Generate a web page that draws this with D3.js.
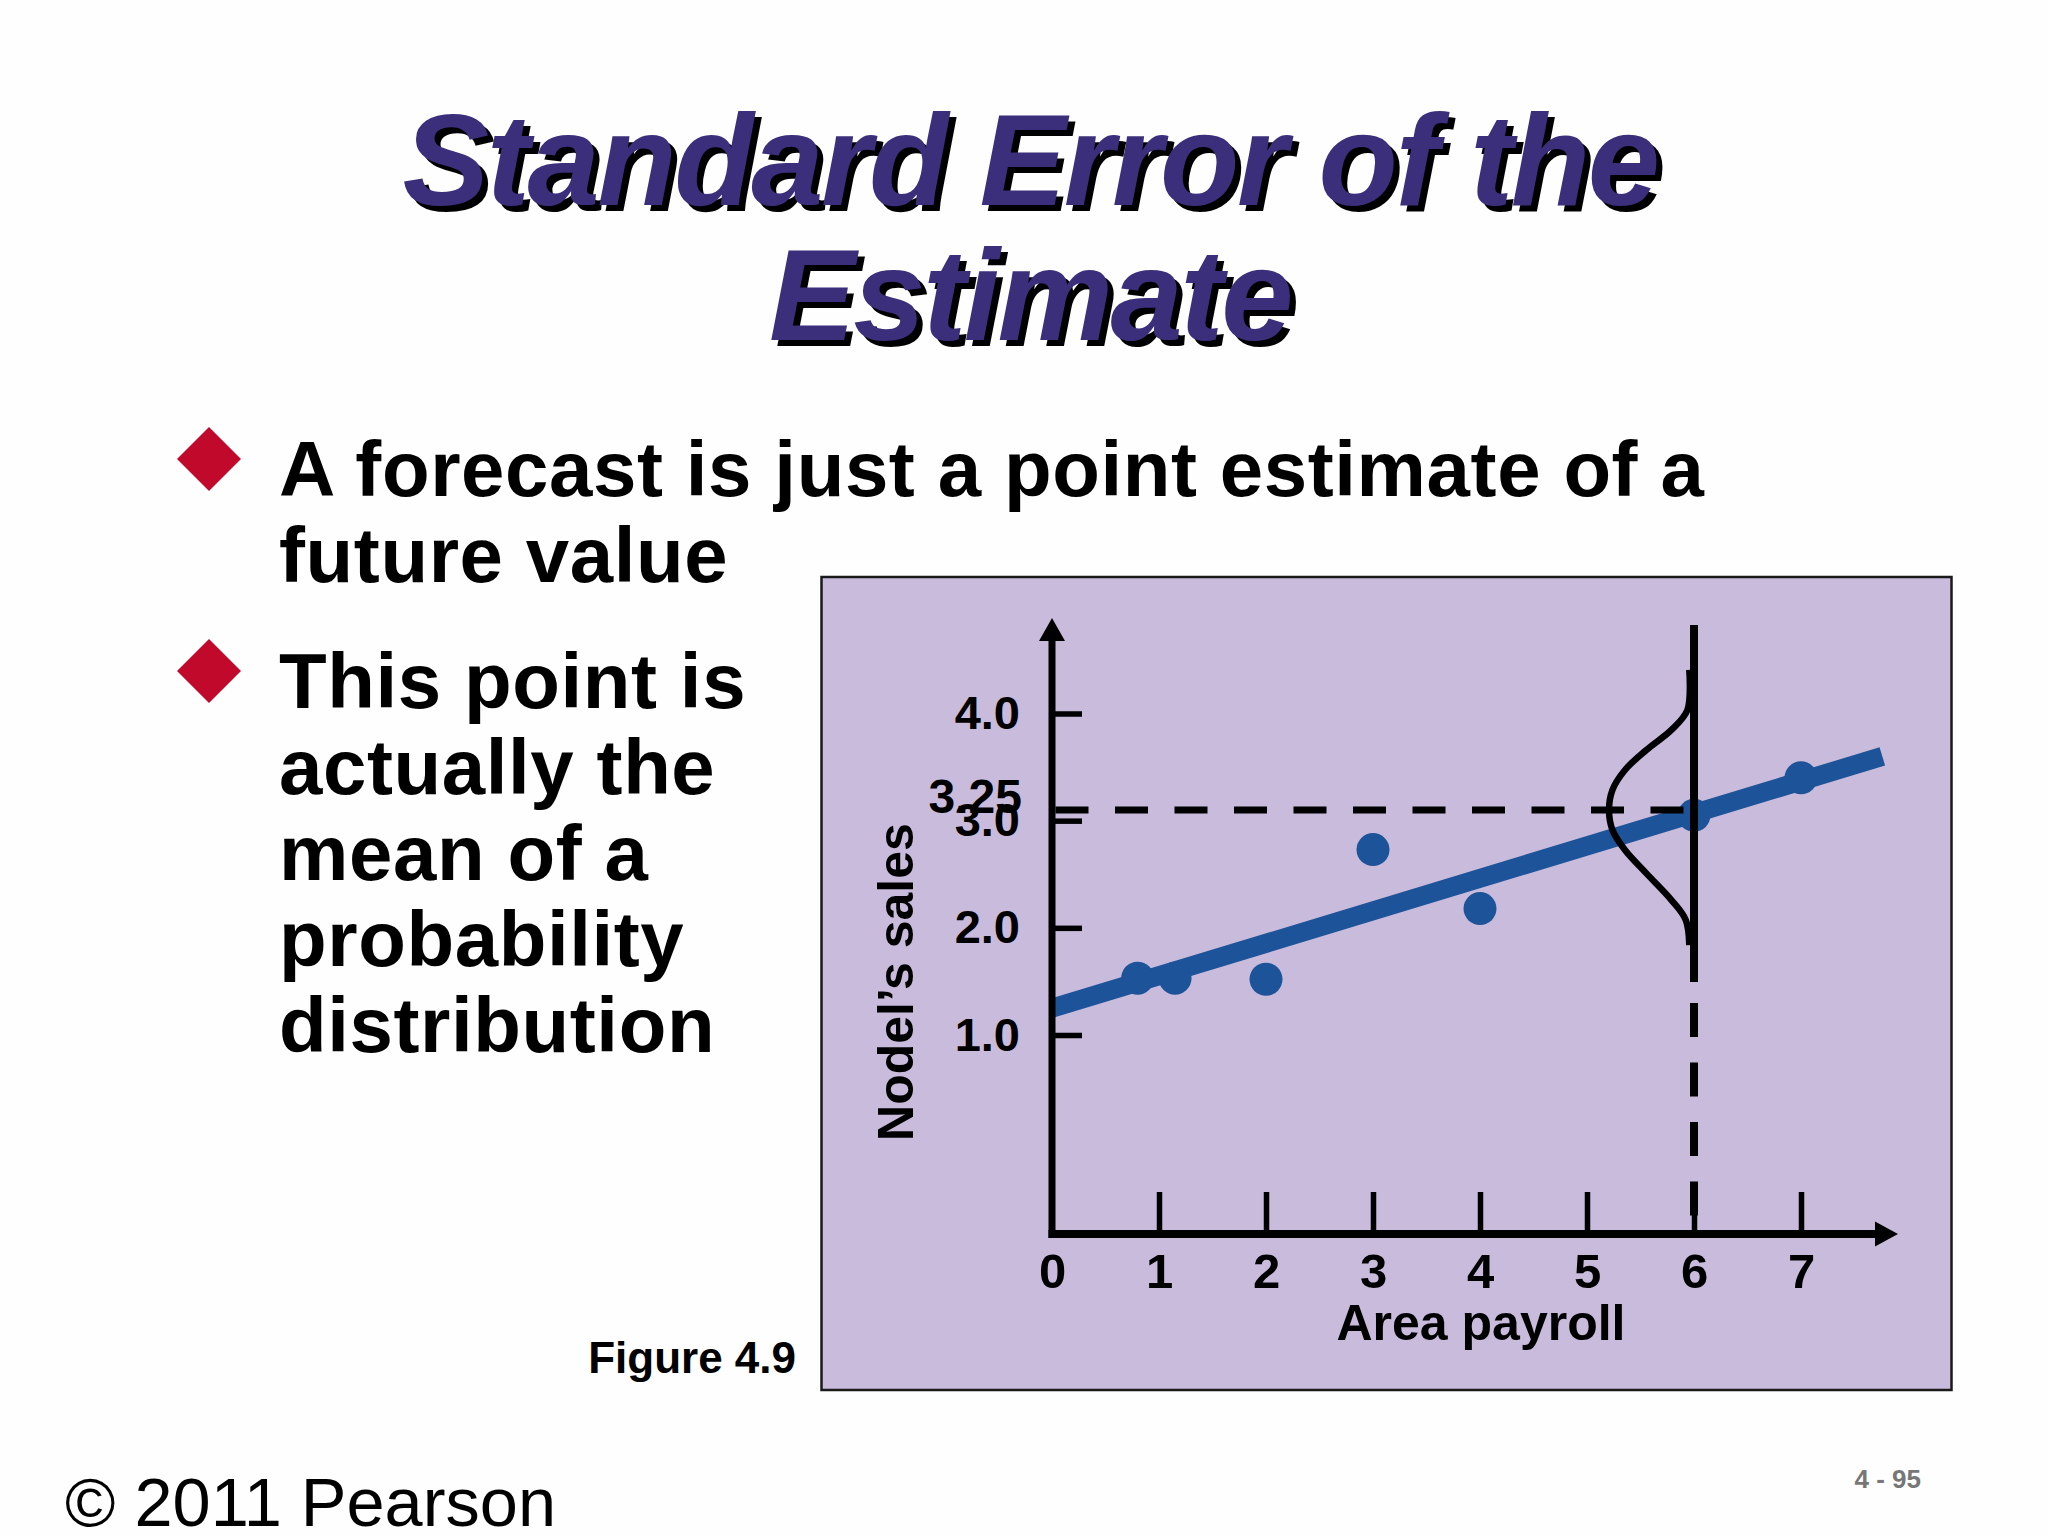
<!DOCTYPE html>
<html>
<head>
<meta charset="utf-8">
<script src="https://cdn.jsdelivr.net/npm/d3@7"></script>
<style>
  html, body { margin: 0; padding: 0; background: #fefefe; }
  svg { display: block; }
</style>
</head>
<body>
<script>
// Slide text
const titleLines = ['Standard Error of the', 'Estimate'];
const bulletBlocks = [
  ['A forecast is just a point estimate of a', 'future value'],
  ['This point is', 'actually the', 'mean of a', 'probability', 'distribution']
];

// Chart values
const xTickValues = [0, 1, 2, 3, 4, 5, 6, 7];
const yTickValues = [1.0, 2.0, 3.0, 4.0];
const payroll = [0.8, 1.15, 2, 3, 4, 6, 7];
const sales = [1.53, 1.53, 1.52, 2.73, 2.18, 3.05, 3.40];
const trendX = [0, 7.76];
const trendY = [1.25, 3.60];
const forecastX = 6;
const forecastY = 3.1;
const forecastLabel = '3.25';
// hand-drawn bell curve around the forecast
const bellX = [5.956, 5.939, 5.789, 5.555, 5.355, 5.238, 5.206, 5.238, 5.355, 5.555, 5.789, 5.923, 5.956];
const bellY = [4.407, 4.034, 3.847, 3.660, 3.473, 3.287, 3.100, 2.913, 2.726, 2.508, 2.259, 2.073, 1.839];

const W = 2048, H = 1536;
const font = '"Liberation Sans", Arial, Helvetica, sans-serif';
const ink = '#000';
const blue = '#1d5398';

const svg = d3.select('body').append('svg')
  .attr('width', W)
  .attr('height', H)
  .style('font-family', font);

svg.append('rect').attr('width', W).attr('height', H).attr('fill', '#fefefe');

// Title with drop shadow
titleLines.forEach((t, i) => {
  const ty = 205 + i * 135;
  svg.append('text')
    .attr('x', 1030 + 6).attr('y', ty + 6)
    .attr('text-anchor', 'middle')
    .attr('font-size', 130).attr('font-weight', 'bold').attr('font-style', 'italic')
    .attr('letter-spacing', -2.5)
    .attr('fill', '#000')
    .text(t);
  svg.append('text')
    .attr('x', 1030).attr('y', ty)
    .attr('text-anchor', 'middle')
    .attr('font-size', 130).attr('font-weight', 'bold').attr('font-style', 'italic')
    .attr('letter-spacing', -2.5)
    .attr('fill', '#3b2f7c')
    .text(t);
});

// Bullets
const bulletTop = [496, 708];
bulletBlocks.forEach((lines, bi) => {
  const by = bulletTop[bi];
  const cy = by - 37;
  svg.append('path')
    .attr('d', `M209,${cy - 32} L241,${cy} L209,${cy + 32} L177,${cy} Z`)
    .attr('fill', '#c1092b');
  lines.forEach((ln, li) => {
    svg.append('text')
      .attr('x', 279).attr('y', by + li * 86)
      .attr('font-size', 78).attr('font-weight', 'bold')
      .attr('letter-spacing', 0.6)
      .attr('fill', ink)
      .text(ln);
  });
});

// Figure panel
svg.append('rect')
  .attr('x', 821.5).attr('y', 577)
  .attr('width', 1130).attr('height', 813)
  .attr('fill', '#c9bbdc')
  .attr('stroke', '#1a1a1a')
  .attr('stroke-width', 2.5);

svg.append('text')
  .attr('x', 796).attr('y', 1373)
  .attr('text-anchor', 'end')
  .attr('font-size', 44).attr('font-weight', 'bold')
  .attr('fill', ink)
  .text('Figure 4.9');

// Scales
const x = d3.scaleLinear().domain([0, 7]).range([1052, 1801]);
const y = d3.scaleLinear().domain([1, 4]).range([1035, 713.5]);
const xAxisY = 1234;      // baseline of the drawn x axis
const yArrowTip = 618;
const xArrowTip = 1898;

// Regression line and points
svg.append('line')
  .attr('x1', x(trendX[0])).attr('y1', y(trendY[0]))
  .attr('x2', x(trendX[1])).attr('y2', y(trendY[1]))
  .attr('stroke', blue).attr('stroke-width', 19);

svg.append('g').selectAll('circle')
  .data(payroll.map((p, i) => [p, sales[i]]))
  .join('circle')
  .attr('cx', d => x(d[0]))
  .attr('cy', d => y(d[1]))
  .attr('r', 16.5)
  .attr('fill', blue);

// Y axis ticks + labels
const yAxis = svg.append('g')
  .attr('transform', `translate(${x(0)},0)`)
  .call(d3.axisLeft(y).tickValues(yTickValues).tickFormat(d3.format('.1f'))
    .tickSizeInner(-30).tickSizeOuter(0).tickPadding(32));
yAxis.select('.domain').remove();
yAxis.selectAll('.tick line').attr('stroke', ink).attr('stroke-width', 5.5);
yAxis.selectAll('.tick text')
  .attr('fill', ink)
  .attr('font-family', font).attr('font-size', 47).attr('font-weight', 'bold');

// X axis ticks + labels
const xAxis = svg.append('g')
  .attr('transform', `translate(0,${xAxisY})`)
  .call(d3.axisBottom(x).tickValues(xTickValues).tickFormat(d3.format('d'))
    .tickSizeInner(-42).tickSizeOuter(0).tickPadding(19));
xAxis.select('.domain').remove();
xAxis.selectAll('.tick line')
  .attr('stroke', ink).attr('stroke-width', 5.5)
  .attr('display', d => d === 0 ? 'none' : null);
xAxis.selectAll('.tick text')
  .attr('fill', ink)
  .attr('font-family', font).attr('font-size', 49).attr('font-weight', 'bold');

// Axis lines with arrow heads
svg.append('line')
  .attr('x1', x(0)).attr('y1', xAxisY + 4)
  .attr('x2', x(0)).attr('y2', yArrowTip + 20)
  .attr('stroke', ink).attr('stroke-width', 7);
svg.append('path')
  .attr('d', `M${x(0)},${yArrowTip} L${x(0) + 13},${yArrowTip + 23} L${x(0) - 13},${yArrowTip + 23} Z`)
  .attr('fill', ink);
svg.append('line')
  .attr('x1', x(0) - 3.5).attr('y1', xAxisY)
  .attr('x2', xArrowTip - 20).attr('y2', xAxisY)
  .attr('stroke', ink).attr('stroke-width', 8);
svg.append('path')
  .attr('d', `M${xArrowTip},${xAxisY} L${xArrowTip - 23},${xAxisY - 12.5} L${xArrowTip - 23},${xAxisY + 12.5} Z`)
  .attr('fill', ink);

// Forecast: dashed guide to the y axis
svg.append('line')
  .attr('x1', x(0) + 3.5).attr('y1', y(forecastY))
  .attr('x2', x(forecastX) - 6).attr('y2', y(forecastY))
  .attr('stroke', ink).attr('stroke-width', 7)
  .attr('stroke-dasharray', '33,26.5');

svg.append('text')
  .attr('x', 1022).attr('y', y(forecastY) + 3)
  .attr('text-anchor', 'end')
  .attr('font-size', 48).attr('font-weight', 'bold')
  .attr('fill', ink)
  .text(forecastLabel);

// Vertical line at x = 6: solid upper part, dashed down to the axis
svg.append('line')
  .attr('x1', x(forecastX)).attr('y1', 625)
  .attr('x2', x(forecastX)).attr('y2', 982)
  .attr('stroke', ink).attr('stroke-width', 8);
svg.append('line')
  .attr('x1', x(forecastX)).attr('y1', 1003)
  .attr('x2', x(forecastX)).attr('y2', xAxisY)
  .attr('stroke', ink).attr('stroke-width', 8)
  .attr('stroke-dasharray', '34,25.5');

// Bell curve
const bell = d3.line()
  .x(d => x(d[0]))
  .y(d => y(d[1]))
  .curve(d3.curveCatmullRom.alpha(0.5));
svg.append('path')
  .datum(bellX.map((v, i) => [v, bellY[i]]))
  .attr('d', bell)
  .attr('fill', 'none')
  .attr('stroke', ink)
  .attr('stroke-width', 6.5);

// Axis titles
svg.append('text')
  .attr('transform', 'translate(913,982) rotate(-90)')
  .attr('text-anchor', 'middle')
  .attr('font-size', 50).attr('font-weight', 'bold')
  .attr('fill', ink)
  .text('Nodel\u2019s sales');

svg.append('text')
  .attr('x', 1481).attr('y', 1340)
  .attr('text-anchor', 'middle')
  .attr('font-size', 50).attr('font-weight', 'bold')
  .attr('fill', ink)
  .text('Area payroll');

// Footer
svg.append('text')
  .attr('x', 65).attr('y', 1526)
  .attr('font-size', 68.5)
  .attr('fill', ink)
  .text('\u00a9 2011 Pearson');

svg.append('text')
  .attr('x', 1921).attr('y', 1488)
  .attr('text-anchor', 'end')
  .attr('font-size', 26).attr('font-weight', 'bold')
  .attr('fill', '#777')
  .text('4 - 95');
</script>
</body>
</html>
